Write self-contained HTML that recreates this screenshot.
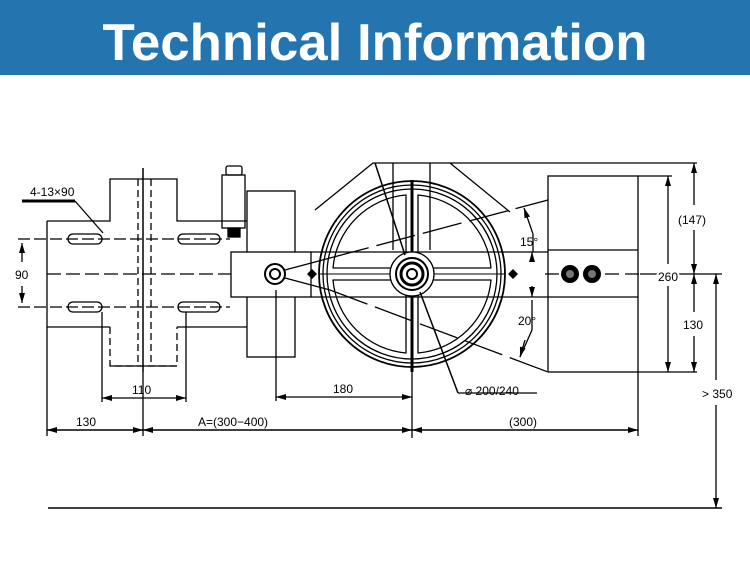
<!DOCTYPE html>
<html><head><meta charset="utf-8"><style>
html,body{margin:0;padding:0;background:#fff;width:750px;height:563px;overflow:hidden}
svg{display:block}
text{font-family:"Liberation Sans",sans-serif}
</style></head><body>
<svg width="750" height="563" viewBox="0 0 750 563" xmlns="http://www.w3.org/2000/svg">
<defs>
<marker id="a" viewBox="0 0 10 6" refX="10" refY="3" markerWidth="10" markerHeight="6" orient="auto-start-reverse" markerUnits="userSpaceOnUse"><path d="M0,0L10,3L0,6z" fill="#000"/></marker>
</defs>
<rect x="0" y="0" width="750" height="75" fill="#2474b0"/>
<text x="375" y="60" font-size="52" font-weight="bold" fill="#fff" text-anchor="middle" textLength="545" lengthAdjust="spacingAndGlyphs">Technical Information</text>

<g stroke="#000" fill="none" stroke-width="1.3">
<!-- left block -->
<path d="M47,221H110V179H177V221H247 M47,327H110 M177,327H247 M47,221V327"/>
<path d="M110,327V366H177V327" stroke-dasharray="7,4"/>
<line x1="110" y1="366" x2="177" y2="366"/>
<line x1="143" y1="168" x2="143" y2="372" stroke-width="1.5"/>
<line x1="138" y1="179" x2="138" y2="366" stroke-dasharray="7,4"/>
<line x1="151" y1="179" x2="151" y2="366" stroke-dasharray="7,4"/>
<!-- slots -->
<rect x="68" y="234" width="34" height="10" rx="5"/>
<rect x="178" y="234" width="42" height="10" rx="5"/>
<rect x="68" y="302" width="34" height="10" rx="5"/>
<rect x="178" y="302" width="42" height="10" rx="5"/>
<line x1="18" y1="239" x2="230" y2="239" stroke-dasharray="12,4"/>
<line x1="18" y1="307" x2="230" y2="307" stroke-dasharray="12,4"/>
<line x1="47" y1="274" x2="270" y2="274" stroke-dasharray="14,5"/>
<line x1="22" y1="243" x2="22" y2="262" marker-start="url(#a)"/>
<line x1="22" y1="286" x2="22" y2="303" marker-end="url(#a)"/>
<line x1="22" y1="201" x2="75" y2="201" stroke-width="3"/>
<line x1="75" y1="201" x2="103" y2="233"/>
<!-- motor -->
<rect x="222" y="175" width="23" height="53"/>
<rect x="226" y="166" width="16" height="9" rx="2"/>
<rect x="228" y="228" width="12" height="9" fill="#000"/>
<rect x="247" y="191" width="48" height="166"/>
<rect x="231" y="252" width="80" height="45" fill="#fff"/>
<line x1="311" y1="252" x2="548" y2="252"/>
<line x1="311" y1="297" x2="548" y2="297"/>
<circle cx="275" cy="274" r="10" stroke-width="2"/>
<circle cx="275" cy="274" r="5" stroke-width="2"/>
<path d="M285,270L330,258 M285,278L330,290"/>
<!-- guard -->
<path d="M315,210L373,163H450L510,212 M450,163H697"/>
<path d="M393,163V250 M430,163V250"/>
<!-- wheel -->
<circle cx="412" cy="274" r="93" stroke-width="1.8"/>
<circle cx="412" cy="274" r="89"/>
<circle cx="412" cy="274" r="85"/>
<path d="M333,268A80,80 0 0 1 406,195V268Z M418,195A80,80 0 0 1 491,268H418Z M333,280A80,80 0 0 0 406,353V280Z M418,353A80,80 0 0 0 491,280H418Z" stroke-linejoin="round"/>
<line x1="412" y1="180" x2="412" y2="372" stroke-width="3"/>
<line x1="320" y1="274" x2="505" y2="274" stroke-width="1"/>
<circle cx="412" cy="274" r="22" fill="#fff"/>
<circle cx="412" cy="274" r="16" stroke-width="2"/>
<circle cx="412" cy="274" r="11" stroke-width="3"/>
<circle cx="412" cy="274" r="5" stroke-width="2"/>
<line x1="412" y1="372" x2="412" y2="438"/>
<!-- angle lines -->
<line x1="330" y1="258" x2="548" y2="200" stroke-dasharray="40,8"/>
<line x1="330" y1="290" x2="548" y2="372" stroke-dasharray="40,8"/>
<line x1="375" y1="163" x2="405" y2="255" stroke-width="1.5"/>
<line x1="420" y1="292" x2="458" y2="393" stroke-width="1.5"/>
<line x1="458" y1="393" x2="537" y2="393"/>
<path d="M524,208L533,234 M533,234V252" marker-start="url(#a)"/>
<path d="M532,300V330L520,357" />
<line x1="532" y1="262" x2="532" y2="252" marker-end="url(#a)"/>
<line x1="532" y1="286" x2="532" y2="297" marker-end="url(#a)"/>
<line x1="525" y1="340" x2="520" y2="357" marker-end="url(#a)"/>
<!-- right box -->
<rect x="548" y="176" width="90" height="196"/>
<line x1="548" y1="250" x2="638" y2="250"/>
<line x1="548" y1="297" x2="638" y2="297"/>
<line x1="545" y1="274" x2="640" y2="274" stroke-dasharray="14,6"/>
<line x1="638" y1="176" x2="672" y2="176"/>
<line x1="638" y1="372" x2="697" y2="372"/>
<line x1="640" y1="274" x2="722" y2="274"/>
<line x1="668" y1="176" x2="668" y2="264" marker-start="url(#a)"/>
<line x1="668" y1="286" x2="668" y2="372" marker-end="url(#a)"/>
<line x1="694" y1="163" x2="694" y2="205" marker-start="url(#a)"/>
<line x1="694" y1="230" x2="694" y2="274" marker-end="url(#a)"/>
<line x1="694" y1="274" x2="694" y2="312" marker-start="url(#a)"/>
<line x1="694" y1="336" x2="694" y2="372" marker-end="url(#a)"/>
<line x1="716" y1="274" x2="716" y2="380" marker-start="url(#a)"/>
<line x1="716" y1="405" x2="716" y2="508" marker-end="url(#a)"/>
<line x1="48" y1="508" x2="722" y2="508" stroke-width="1.5"/>
<!-- bottom dims -->
<line x1="47" y1="327" x2="47" y2="436"/>
<line x1="102" y1="312" x2="102" y2="402"/>
<line x1="186" y1="312" x2="186" y2="402"/>
<line x1="276" y1="290" x2="276" y2="401"/>
<line x1="638" y1="372" x2="638" y2="436"/>
<line x1="143" y1="372" x2="143" y2="436"/>
<line x1="102" y1="398" x2="186" y2="398" marker-start="url(#a)" marker-end="url(#a)"/>
<line x1="276" y1="397" x2="412" y2="397" marker-start="url(#a)" marker-end="url(#a)"/>
<line x1="47" y1="430" x2="143" y2="430" marker-start="url(#a)" marker-end="url(#a)" stroke-width="1.5"/>
<line x1="143" y1="430" x2="412" y2="430" marker-start="url(#a)" marker-end="url(#a)" stroke-width="1.5"/>
<line x1="412" y1="430" x2="638" y2="430" marker-start="url(#a)" marker-end="url(#a)" stroke-width="1.5"/>
</g>
<g fill="#000">
<path d="M312,269l5,5l-5,5l-5,-5z M513,269l5,5l-5,5l-5,-5z"/>
<circle cx="570" cy="274" r="9"/><circle cx="592" cy="274" r="9"/>
<circle cx="570" cy="274" r="4" fill="#777"/><circle cx="592" cy="274" r="4" fill="#777"/>
</g>
<g font-size="12" fill="#000">
<text x="30" y="196">4-13×90</text>
<text x="15" y="279">90</text>
<text x="132" y="394" font-size="12">110</text>
<text x="76" y="426">130</text>
<text x="198" y="426">A=(300−400)</text>
<text x="333" y="393">180</text>
<text x="509" y="426">(300)</text>
<text x="465" y="395">⌀ 200/240</text>
<text x="520" y="246">15°</text>
<text x="518" y="325">20°</text>
<text x="678" y="224">(147)</text>
<text x="658" y="281" style="paint-order:stroke" stroke="#fff" stroke-width="4">260</text>
<text x="683" y="329">130</text>
<text x="702" y="398">&gt; 350</text>
</g>
</svg>
</body></html>
